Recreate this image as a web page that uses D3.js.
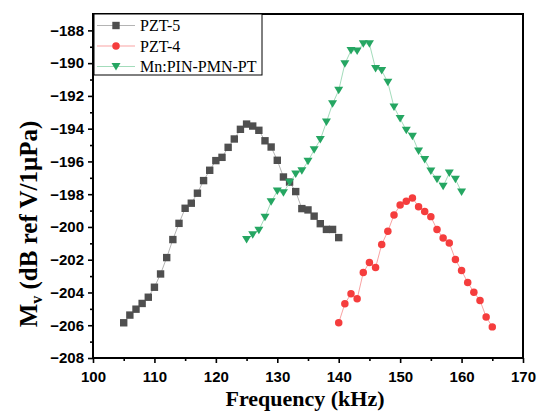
<!DOCTYPE html>
<html>
<head>
<meta charset="utf-8">
<script src="https://cdn.jsdelivr.net/npm/d3@7"></script>
<style>
  html, body { margin: 0; padding: 0; background: #fff; }
  svg { display: block; }
</style>
</head>
<body>
<svg id="chart" width="541" height="412"></svg>
<script>
// Receiving voltage sensitivity versus frequency for three hydrophone materials

const freqPZT5 = [105, 106, 107, 108, 109, 110, 111, 112, 113, 114, 115, 116,
  117, 118, 119, 120, 121, 122, 123, 124, 125, 126, 127, 128, 129, 130, 131,
  132, 133, 134, 135, 136, 137, 138, 139, 140];
const mvPZT5 = [-205.85, -205.38, -205.02, -204.67, -204.29, -203.68, -202.87,
  -201.87, -200.77, -199.78, -198.86, -198.55, -197.94, -197.17, -196.54,
  -195.95, -195.75, -195.14, -194.63, -194.04, -193.72, -193.84, -194.10,
  -194.74, -195.12, -195.93, -196.95, -197.26, -197.84, -198.88, -198.96,
  -199.34, -199.80, -200.15, -200.15, -200.65];

const freqPZT4 = [140, 141, 142, 143, 144, 145, 146, 147, 148, 149, 150, 151,
  152, 153, 154, 155, 156, 157, 158, 159, 160, 161, 162, 163, 164, 165];
const mvPZT4 = [-205.85, -204.69, -204.08, -204.39, -202.78, -202.17, -202.48,
  -201.07, -200.26, -199.27, -198.66, -198.43, -198.23, -198.76, -199.06,
  -199.37, -200.16, -200.67, -200.98, -201.99, -202.66, -203.39, -203.98,
  -204.49, -205.49, -206.10];

const freqMn = [125, 126, 127, 128, 129, 130, 131, 132, 133, 134, 135, 136,
  137, 138, 139, 140, 141, 142, 143, 144, 145, 146, 147, 148, 149, 150, 151,
  152, 153, 154, 155, 156, 157, 158, 159, 160];
const mvMn = [-200.77, -200.48, -200.20, -199.41, -198.47, -197.81, -197.92,
  -197.28, -196.77, -196.57, -195.99, -195.30, -194.67, -193.60, -192.48,
  -191.66, -190.04, -189.23, -189.27, -188.82, -188.82, -190.34, -190.45,
  -191.18, -192.68, -193.39, -194.10, -194.47, -195.37, -195.89, -196.59,
  -197.09, -197.52, -196.71, -197.09, -197.87];

const xTicks = [100, 110, 120, 130, 140, 150, 160, 170];
const yTicks = [-188, -190, -192, -194, -196, -198, -200, -202, -204, -206, -208];

const series = [
  { name: "PZT-5", x: freqPZT5, y: mvPZT5, marker: "square", fill: "#4f4f4f", line: "#b4b4b4" },
  { name: "PZT-4", x: freqPZT4, y: mvPZT4, marker: "circle", fill: "#f53d3d", line: "#f9a3a3" },
  { name: "Mn:PIN-PMN-PT", x: freqMn, y: mvMn, marker: "triangle", fill: "#25a662", line: "#a3dcbb" }
];

const margin = { top: 14, right: 18, bottom: 54, left: 93 };
const W = 541, H = 412;
const svg = d3.select("#chart");

const x = d3.scaleLinear().domain([100, 170]).range([margin.left, W - margin.right]);
const y = d3.scaleLinear().domain([-208, -187]).range([H - margin.bottom, margin.top]);

// marker shapes, centred on the data point
function markerPath(kind) {
  if (kind === "square") return "M-3.7,-3.7H3.7V3.7H-3.7Z";
  if (kind === "circle") return d3.symbol(d3.symbolCircle, 44)();
  return "M-4.5,-3.6L4.5,-3.6L0,3.9Z";
}

// connecting lines
const line = d3.line().x(d => x(d[0])).y(d => y(d[1]));
series.forEach(s => {
  const pts = s.x.map((f, i) => [f, s.y[i]]);
  svg.append("path")
    .attr("d", line(pts))
    .attr("fill", "none")
    .attr("stroke", s.line)
    .attr("stroke-width", 1);
  svg.append("g").selectAll("path")
    .data(pts)
    .join("path")
    .attr("transform", d => `translate(${x(d[0])},${y(d[1])})`)
    .attr("d", markerPath(s.marker))
    .attr("fill", s.fill);
});

// axes
const tickFont = "bold 15px 'Liberation Sans', Arial, sans-serif";

const xAxis = svg.append("g")
  .attr("transform", `translate(0,${H - margin.bottom})`)
  .call(d3.axisBottom(x).tickValues(xTicks).tickSize(5).tickPadding(12).tickFormat(d3.format("d")));
const xMinor = svg.append("g")
  .attr("transform", `translate(0,${H - margin.bottom})`)
  .call(d3.axisBottom(x).tickValues(xTicks.slice(0, -1).map(v => v + 5)).tickSize(3).tickFormat(""));

const yAxis = svg.append("g")
  .attr("transform", `translate(${margin.left},0)`)
  .call(d3.axisLeft(y).tickValues(yTicks).tickSize(5).tickPadding(4).tickFormat(d3.format("d")));
const yMinor = svg.append("g")
  .attr("transform", `translate(${margin.left},0)`)
  .call(d3.axisLeft(y).tickValues(yTicks.slice(0, -1).map(v => v - 1)).tickSize(3).tickFormat(""));

[xAxis, xMinor, yAxis, yMinor].forEach(g => {
  g.select(".domain").remove();
  g.selectAll(".tick line").attr("stroke", "#000").attr("stroke-width", 1.6);
  g.selectAll(".tick text").style("font", tickFont).attr("fill", "#000");
});
xAxis.selectAll(".tick text").attr("dy", "0.45em");

// plot frame
svg.append("rect")
  .attr("x", margin.left)
  .attr("y", margin.top)
  .attr("width", W - margin.left - margin.right)
  .attr("height", H - margin.top - margin.bottom)
  .attr("fill", "none")
  .attr("stroke", "#000")
  .attr("stroke-width", 2);

// axis titles
svg.append("text")
  .attr("x", 305)
  .attr("y", 406)
  .attr("text-anchor", "middle")
  .style("font", "bold 22px 'Liberation Serif', 'Times New Roman', serif")
  .text("Frequency (kHz)");

const yTitle = svg.append("text")
  .attr("transform", "translate(37,224) rotate(-90)")
  .attr("text-anchor", "middle")
  .style("font", "bold 25px 'Liberation Serif', 'Times New Roman', serif");
yTitle.append("tspan").text("M");
yTitle.append("tspan").attr("dy", 5).style("font-size", "16px").text("v");
yTitle.append("tspan").attr("dy", -5).text(" (dB ref V/1\u03bcPa)");

// legend
const legend = svg.append("g");
legend.append("rect")
  .attr("x", margin.left + 1)
  .attr("y", margin.top)
  .attr("width", 168)
  .attr("height", 61)
  .attr("fill", "#fff")
  .attr("stroke", "#000")
  .attr("stroke-width", 1);
series.forEach((s, i) => {
  const cy = 25.5 + i * 20.5;
  legend.append("line")
    .attr("x1", 97).attr("x2", 135)
    .attr("y1", cy).attr("y2", cy)
    .attr("stroke", s.line).attr("stroke-width", 1);
  legend.append("path")
    .attr("transform", `translate(116,${cy})`)
    .attr("d", markerPath(s.marker))
    .attr("fill", s.fill);
  legend.append("text")
    .attr("x", 140)
    .attr("y", cy + 5.5)
    .style("font", "16px 'Liberation Serif', 'Times New Roman', serif")
    .attr("fill", "#000")
    .text(s.name);
});
</script>
</body>
</html>
